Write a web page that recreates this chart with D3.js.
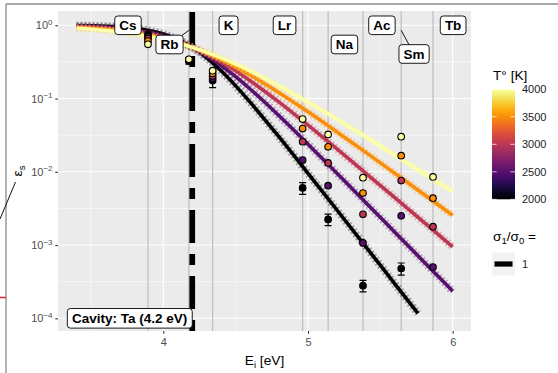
<!DOCTYPE html>
<html>
<head>
<meta charset="UTF-8">
<script src="https://d3js.org/d3.v7.min.js"></script>
<style>
  body { margin: 0; background: #fff; }
  svg text { font-family: "Liberation Sans", Arial, sans-serif; }
</style>
</head>
<body>
<svg id="chart" width="558" height="373"></svg>
<script>
  // temperatures (K) and model curves eps_s(E_i) for sigma1/sigma0 = 1
  const temps = [2000, 2500, 3000, 3500, 4000];
  const curveE = [3.4, 3.6, 3.8, 3.9, 4.0, 4.1, 4.2, 4.3, 4.4, 4.5, 4.6, 4.8, 5.0, 5.2, 5.4, 5.6, 5.8, 6.0];
  const curveE2000 = [3.4, 3.6, 3.8, 3.9, 4.0, 4.1, 4.2, 4.3, 4.4, 4.5, 4.6, 4.8, 5.0, 5.2, 5.4, 5.6, 5.76];
  const eff2000 = [0.990, 0.970, 0.911, 0.851, 0.762, 0.641, 0.500, 0.359, 0.239, 0.149, 0.0893, 0.0299, 0.00955, 0.00301, 0.000946, 0.000296, 0.000117];
  const eff2500 = [0.976, 0.942, 0.865, 0.801, 0.716, 0.614, 0.500, 0.386, 0.283, 0.199, 0.135, 0.0581, 0.0238, 0.00955, 0.00379, 0.00150, 0.000594, 0.000235];
  const eff3000 = [0.957, 0.911, 0.824, 0.762, 0.684, 0.596, 0.500, 0.404, 0.316, 0.239, 0.175, 0.0893, 0.0433, 0.0205, 0.00955, 0.00443, 0.00205, 0.000946];
  const eff3500 = [0.934, 0.880, 0.790, 0.730, 0.660, 0.582, 0.500, 0.418, 0.340, 0.270, 0.210, 0.120, 0.0658, 0.0350, 0.0184, 0.00955, 0.00494, 0.00255];
  const eff4000 = [0.911, 0.851, 0.762, 0.705, 0.641, 0.572, 0.500, 0.428, 0.359, 0.295, 0.239, 0.149, 0.0893, 0.0521, 0.0299, 0.0169, 0.00955, 0.00537];

  // measured points per element
  const elements = ["Cs", "Rb", "K", "Lr", "Na", "Ac", "Sm", "Tb"];
  const ionEnergy = [3.894, 4.177, 4.341, 4.963, 5.139, 5.380, 5.644, 5.864];
  const pts2000 = [0.75, 0.325, 0.176, 0.00603, 0.00224, 0.000279, 0.000479, null];
  const err2000 = [0.06, 0.03, 0.035, 0.0011, 0.0004, 0.00005, 0.00009, null];
  const pts2500 = [0.70, 0.330, 0.188, 0.01445, 0.00646, 0.00107, 0.00251, 0.000501];
  const pts3000 = [0.66, 0.335, 0.203, 0.0257, 0.0132, 0.00263, 0.00759, 0.00178];
  const pts3500 = [0.61, 0.340, 0.220, 0.0389, 0.0219, 0.00513, 0.0166, 0.00437];
  const pts4000 = [0.55, 0.343, 0.240, 0.0525, 0.0324, 0.00832, 0.0302, 0.00851];

  const cavityE = 4.2;
  const cavityText = "Cavity: Ta (4.2 eV)";

  // ticks
  const xMajor = [4, 5, 6], xMinor = [3.5, 4.5, 5.5];
  const yMajorExp = [0, -1, -2, -3, -4], yMinorExp = [-0.5, -1.5, -2.5, -3.5];
  const legendTicks = [2000, 2500, 3000, 3500, 4000];

  // label layout (repelled positions)
  const labelE = [3.756, 4.043, 4.451, 4.838, 5.252, 5.511, 5.733, 6.003];
  const labelEps = [1.0, 0.547, 1.0, 1.0, 0.547, 1.0, 0.406, 1.0];
  const labelSegment = [true, true, false, false, false, false, true, false];

  const series = [
    { T: 2000, E: curveE2000, v: eff2000, p: pts2000, err: err2000 },
    { T: 2500, E: curveE, v: eff2500, p: pts2500 },
    { T: 3000, E: curveE, v: eff3000, p: pts3000 },
    { T: 3500, E: curveE, v: eff3500, p: pts3500 },
    { T: 4000, E: curveE, v: eff4000, p: pts4000 }
  ];

  const svg = d3.select("#chart");
  const panel = { left: 58, right: 471, top: 11, bottom: 331 };

  const x = d3.scaleLinear().domain([3.2723, 6.1265]).range([panel.left, panel.right]);
  const y = d3.scaleLog().domain([6.714e-5, 1.5668]).range([panel.bottom, panel.top]);
  const color = d3.scaleSequential(d3.interpolateInferno).domain([2000, 4000]);

  // odd frame bits around the figure
  svg.append("line").attr("x1", 6).attr("x2", 558).attr("y1", 4).attr("y2", 4)
    .attr("stroke", "#8c8c8c").attr("stroke-width", 1.3);
  svg.append("line").attr("x1", 6).attr("x2", 6).attr("y1", 4).attr("y2", 373)
    .attr("stroke", "#8c8c8c").attr("stroke-width", 1.3);
  svg.append("line").attr("x1", 0).attr("x2", 6).attr("y1", 297.5).attr("y2", 297.5)
    .attr("stroke", "#e8231f").attr("stroke-width", 1.5);
  svg.append("line").attr("x1", 0).attr("x2", 15.5).attr("y1", 219).attr("y2", 182)
    .attr("stroke", "#111").attr("stroke-width", 1);

  // panel
  svg.append("rect")
    .attr("x", panel.left).attr("y", panel.top)
    .attr("width", panel.right - panel.left).attr("height", panel.bottom - panel.top)
    .attr("fill", "#EBEBEB");

  svg.append("clipPath").attr("id", "clip").append("rect")
    .attr("x", panel.left).attr("y", panel.top)
    .attr("width", panel.right - panel.left).attr("height", panel.bottom - panel.top);

  const grid = svg.append("g");
  grid.selectAll(".ymin").data(yMinorExp).enter().append("line")
    .attr("x1", panel.left).attr("x2", panel.right)
    .attr("y1", d => y(Math.pow(10, d))).attr("y2", d => y(Math.pow(10, d)))
    .attr("stroke", "#fff").attr("stroke-width", 0.55);
  grid.selectAll(".xmin").data(xMinor).enter().append("line")
    .attr("y1", panel.top).attr("y2", panel.bottom)
    .attr("x1", d => x(d)).attr("x2", d => x(d))
    .attr("stroke", "#fff").attr("stroke-width", 0.55);
  grid.selectAll(".ymaj").data(yMajorExp).enter().append("line")
    .attr("x1", panel.left).attr("x2", panel.right)
    .attr("y1", d => y(Math.pow(10, d))).attr("y2", d => y(Math.pow(10, d)))
    .attr("stroke", "#fff").attr("stroke-width", 1.1);
  grid.selectAll(".xmaj").data(xMajor).enter().append("line")
    .attr("y1", panel.top).attr("y2", panel.bottom)
    .attr("x1", d => x(d)).attr("x2", d => x(d))
    .attr("stroke", "#fff").attr("stroke-width", 1.1);

  // element lines
  svg.append("g").selectAll("line").data(ionEnergy).enter().append("line")
    .attr("y1", panel.top).attr("y2", panel.bottom)
    .attr("x1", d => x(d)).attr("x2", d => x(d))
    .attr("stroke", "#bdbdbd").attr("stroke-width", 1.2);

  // cavity work function line (dash starts at the bottom, like grid)
  svg.append("line")
    .attr("x1", x(cavityE)).attr("x2", x(cavityE))
    .attr("y1", panel.bottom).attr("y2", panel.top)
    .attr("stroke", "#000").attr("stroke-width", 5.7)
    .attr("stroke-dasharray", "11 11 33 11");

  // curves
  const line = d3.line()
    .x(d => x(d[0])).y(d => y(d[1]))
    .curve(d3.curveMonotoneX);

  const curves = svg.append("g").attr("clip-path", "url(#clip)");
  series.forEach(s => {
    const pts = s.E.map((e, i) => [e, s.v[i]]);
    curves.append("path").datum(pts).attr("d", line)
      .attr("fill", "none").attr("stroke", color(s.T))
      .attr("stroke-width", 8).attr("stroke-opacity", 0.3)
      .attr("stroke-dasharray", "2 2");
    curves.append("path").datum(pts).attr("d", line)
      .attr("fill", "none").attr("stroke", color(s.T))
      .attr("stroke-width", 3.6);
  });

  // error bars + points
  const marks = svg.append("g");
  series.forEach(s => {
    if (!s.err) return;
    ionEnergy.forEach((e, i) => {
      if (s.p[i] == null) return;
      const lo = y(s.p[i] - s.err[i]), hi = y(s.p[i] + s.err[i]), cx = x(e);
      marks.append("path")
        .attr("d", `M${cx - 3.5},${hi}H${cx + 3.5}M${cx},${hi}V${lo}M${cx - 3.5},${lo}H${cx + 3.5}`)
        .attr("stroke", "#000").attr("stroke-width", 1.2).attr("fill", "none");
    });
  });
  series.forEach(s => {
    ionEnergy.forEach((e, i) => {
      if (s.p[i] == null) return;
      marks.append("circle")
        .attr("cx", x(e)).attr("cy", y(s.p[i])).attr("r", 3.3)
        .attr("fill", color(s.T)).attr("stroke", "#000").attr("stroke-width", 1.1);
    });
  });

  // element labels
  const labels = svg.append("g");
  elements.forEach((el, i) => {
    const cx = x(labelE[i]), cy = y(labelEps[i]);
    if (labelSegment[i]) {
      labels.append("line")
        .attr("x1", x(ionEnergy[i])).attr("y1", y(1) + 5)
        .attr("x2", cx).attr("y2", cy)
        .attr("stroke", "#000").attr("stroke-width", 0.9);
    }
    const g = labels.append("g");
    const rect = g.append("rect");
    const t = g.append("text")
      .attr("x", cx).attr("y", cy + 4.7)
      .attr("text-anchor", "middle")
      .attr("font-size", 13.5).attr("font-weight", "bold")
      .text(el);
    const w = t.node().getComputedTextLength();
    rect.attr("x", cx - w / 2 - 4.6).attr("y", cy - 9.3)
      .attr("width", w + 9.2).attr("height", 18.6).attr("rx", 3)
      .attr("fill", "#fff").attr("stroke", "#000").attr("stroke-width", 0.9);
  });

  // cavity label (right-aligned at cavity energy)
  {
    const g = svg.append("g");
    const rect = g.append("rect");
    const t = g.append("text")
      .attr("x", x(cavityE) - 5).attr("y", y(1e-4) + 4.7)
      .attr("text-anchor", "end")
      .attr("font-size", 13.5).attr("font-weight", "bold")
      .text(cavityText);
    const w = t.node().getComputedTextLength();
    rect.attr("x", x(cavityE) - w - 9.6).attr("y", y(1e-4) - 9.8)
      .attr("width", w + 9.6).attr("height", 19.6).attr("rx", 3)
      .attr("fill", "#fff").attr("stroke", "#000").attr("stroke-width", 0.9);
  }

  // axes
  const xAxis = svg.append("g")
    .attr("transform", `translate(0,${panel.bottom})`)
    .call(d3.axisBottom(x).tickValues(xMajor).tickSize(2.75).tickPadding(4.5).tickFormat(d3.format("d")));
  xAxis.select(".domain").remove();
  xAxis.selectAll(".tick line").attr("stroke", "#333").attr("stroke-width", 1.07);
  xAxis.selectAll(".tick text").attr("fill", "#4D4D4D").attr("font-size", 11)
    .attr("font-family", "Liberation Sans, Arial, sans-serif");

  const yAxis = svg.append("g")
    .attr("transform", `translate(${panel.left},0)`)
    .call(d3.axisLeft(y).tickValues(yMajorExp.map(d => Math.pow(10, d))).tickSize(2.75).tickFormat(""));
  yAxis.select(".domain").remove();
  yAxis.selectAll(".tick line").attr("stroke", "#333").attr("stroke-width", 1.07);
  yMajorExp.forEach(d => {
    const t = svg.append("text")
      .attr("x", panel.left - 5.5).attr("y", y(Math.pow(10, d)) + 4)
      .attr("text-anchor", "end").attr("fill", "#4D4D4D").attr("font-size", 11);
    t.append("tspan").text("10");
    t.append("tspan").attr("dy", -4.5).attr("font-size", 8).text(d === 0 ? "0" : "\u2212" + (-d));
  });

  // axis titles
  const xt = svg.append("text")
    .attr("x", (panel.left + panel.right) / 2).attr("y", 365)
    .attr("text-anchor", "middle").attr("font-size", 13.7);
  xt.append("tspan").text("E");
  xt.append("tspan").attr("font-size", 9.5).attr("dy", 3).text("i");
  xt.append("tspan").attr("dy", -3).text(" [eV]");

  const yt = svg.append("text")
    .attr("transform", `translate(22,${(panel.top + panel.bottom) / 2}) rotate(-90)`)
    .attr("text-anchor", "middle").attr("font-size", 13.7);
  yt.append("tspan").text("\u03b5");
  yt.append("tspan").attr("font-size", 9.5).attr("dy", 3).text("s");

  // colour legend
  const leg = svg.append("g");
  leg.append("text").attr("x", 493).attr("y", 80).attr("font-size", 13.7).text("T\u00b0 [K]");

  const grad = svg.append("defs").append("linearGradient")
    .attr("id", "tgrad").attr("x1", 0).attr("x2", 0).attr("y1", 1).attr("y2", 0);
  d3.range(0, 1.0001, 0.05).forEach(o => {
    grad.append("stop").attr("offset", o).attr("stop-color", d3.interpolateInferno(o));
  });
  const ly = d3.scaleLinear().domain([2000, 4000]).range([199.3, 89.3]);
  leg.append("rect").attr("x", 492).attr("y", ly(4000)).attr("width", 23)
    .attr("height", ly(2000) - ly(4000)).attr("fill", "url(#tgrad)");
  legendTicks.forEach(v => {
    leg.append("line").attr("x1", 492).attr("x2", 496.6).attr("y1", ly(v)).attr("y2", ly(v))
      .attr("stroke", "#fff").attr("stroke-width", 0.9).attr("stroke-opacity", 0.8);
    leg.append("line").attr("x1", 510.4).attr("x2", 515).attr("y1", ly(v)).attr("y2", ly(v))
      .attr("stroke", "#fff").attr("stroke-width", 0.9).attr("stroke-opacity", 0.8);
    leg.append("text").attr("x", 522).attr("y", ly(v) + 4).attr("font-size", 11)
      .attr("fill", "#222").text(v);
  });

  // sigma legend
  const st = leg.append("text").attr("x", 493).attr("y", 241).attr("font-size", 13.7);
  st.append("tspan").text("\u03c3");
  st.append("tspan").attr("font-size", 9.5).attr("dy", 3).text("1");
  st.append("tspan").attr("dy", -3).text("/\u03c3");
  st.append("tspan").attr("font-size", 9.5).attr("dy", 3).text("0");
  st.append("tspan").attr("dy", -3).text(" =");
  leg.append("rect").attr("x", 492).attr("y", 252.5).attr("width", 23).attr("height", 23)
    .attr("fill", "#F2F2F2");
  leg.append("line").attr("x1", 494.5).attr("x2", 512.5).attr("y1", 264).attr("y2", 264)
    .attr("stroke", "#000").attr("stroke-width", 5.2);
  leg.append("text").attr("x", 522).attr("y", 268).attr("font-size", 11).attr("fill", "#222").text("1");
</script>
</body>
</html>
